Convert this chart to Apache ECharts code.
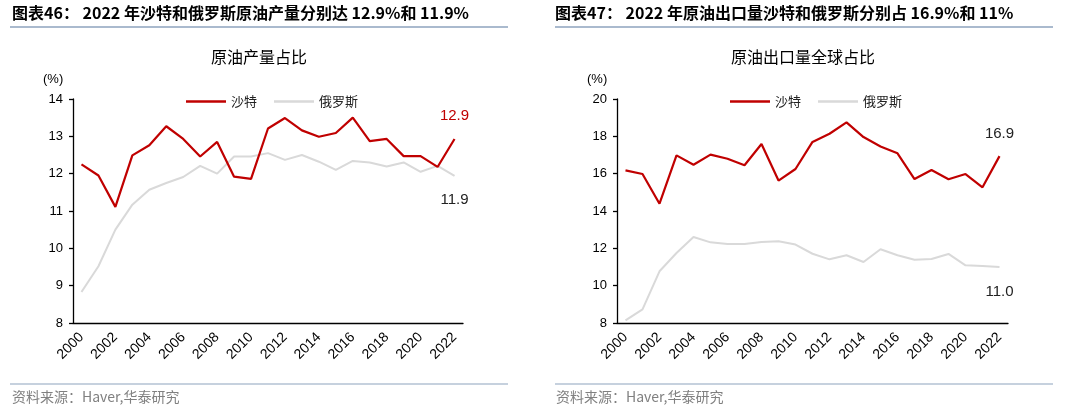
<!DOCTYPE html>
<html>
<head>
<meta charset="utf-8">
<script src="https://cdn.jsdelivr.net/npm/echarts@6/dist/echarts.min.js"></script>
<style>
html,body{margin:0;padding:0;background:#fff;}
#c{width:1080px;height:415px;}
</style>
</head>
<body>
<div id="c"></div>
<script>
var years = ['2000','2001','2002','2003','2004','2005','2006','2007','2008','2009','2010','2011','2012','2013','2014','2015','2016','2017','2018','2019','2020','2021','2022'];
var saudiProd = [12.25,11.95,11.11,12.49,12.76,13.27,12.93,12.46,12.85,11.92,11.86,13.21,13.49,13.16,12.99,13.09,13.50,12.87,12.93,12.47,12.47,12.18,12.93];
var russiaProd = [8.83,9.52,10.50,11.17,11.57,11.75,11.91,12.21,12.00,12.46,12.46,12.55,12.37,12.50,12.32,12.10,12.34,12.30,12.19,12.30,12.05,12.21,11.94];
var saudiExport = [16.18,15.98,14.39,16.98,16.48,17.02,16.80,16.45,17.59,15.63,16.25,17.70,18.14,18.75,17.96,17.46,17.09,15.71,16.20,15.70,15.98,15.27,16.94];
var russiaExport = [8.14,8.73,10.77,11.75,12.61,12.32,12.23,12.23,12.34,12.38,12.20,11.71,11.41,11.63,11.27,11.95,11.63,11.39,11.43,11.70,11.09,11.05,11.00];
var seriesNames = ['沙特','俄罗斯'];

var RED = '#C00000', GRAY = '#D9D9D9';
var NUM = '"Liberation Sans", Arial, sans-serif';
var CJK = '"Noto Sans CJK SC", sans-serif';

function withEndLabel(arr, color, pos, dist) {
  var last = arr.length - 1;
  return arr.map(function (v, i) {
    if (i !== last) return v;
    return {value: v, label: {show: true, position: pos, distance: dist, color: color,
      fontSize: 15, fontFamily: NUM, formatter: function (p) { return p.value.toFixed(1); }}};
  });
}

function xAxisCfg(gi) {
  return {
    type: 'category', gridIndex: gi, data: years, boundaryGap: true,
    axisLine: {lineStyle: {color: '#000', width: 1.3}},
    axisTick: {interval: 1, length: 5, lineStyle: {color: '#000', width: 1.3}},
    axisLabel: {interval: 1, rotate: 45, fontSize: 14, color: '#000', fontFamily: NUM, margin: 12}
  };
}
function yAxisCfg(gi, mn, mx, iv) {
  return {
    type: 'value', gridIndex: gi, min: mn, max: mx, interval: iv,
    splitLine: {show: false},
    axisLine: {show: true, lineStyle: {color: '#000', width: 1.3}},
    axisTick: {show: true, length: 4, lineStyle: {color: '#000', width: 1.3}},
    axisLabel: {fontSize: 13, color: '#000', fontFamily: NUM, margin: 10}
  };
}
function lineSeries(name, gi, data, color, w) {
  return {
    name: name, type: 'line', xAxisIndex: gi, yAxisIndex: gi, data: data,
    symbol: 'circle', symbolSize: 0.01, showSymbol: true, showAllSymbol: true,
    smooth: false, lineStyle: {color: color, width: w}, itemStyle: {color: color},
    labelLayout: {hideOverlap: false},
    z: name === seriesNames[0] ? 3 : 2, animation: false
  };
}
function legendCfg(left) {
  return {
    left: left, top: 90, icon: 'rect', itemWidth: 40, itemHeight: 2.5, itemGap: 17,
    data: [{name: seriesNames[0], itemStyle: {color: RED}}, {name: seriesNames[1], itemStyle: {color: GRAY}}],
    textStyle: {fontSize: 13, color: '#222', fontFamily: CJK},
    selectedMode: false
  };
}

var chart = echarts.init(document.getElementById('c'), null, {renderer: 'canvas'});
var option = {
  backgroundColor: '#fff',
  animation: false,
  grid: [
    {left: 73, top: 99, width: 390, height: 224},
    {left: 617, top: 99, width: 391, height: 224}
  ],
  legend: [legendCfg(181), legendCfg(725)],
  xAxis: [xAxisCfg(0), xAxisCfg(1)],
  yAxis: [yAxisCfg(0, 8, 14, 1), yAxisCfg(1, 8, 20, 2)],
  series: [
    lineSeries(seriesNames[1], 0, withEndLabel(russiaProd, '#222', 'bottom', 16), GRAY, 2),
    lineSeries(seriesNames[0], 0, withEndLabel(saudiProd, RED, 'top', 16), RED, 2.2),
    lineSeries(seriesNames[1], 1, withEndLabel(russiaExport, '#222', 'bottom', 17), GRAY, 2),
    lineSeries(seriesNames[0], 1, withEndLabel(saudiExport, '#222', 'top', 15), RED, 2.2)
  ],
  graphic: [
    {type: 'text', left: 12, top: 5, style: {text: '图表46： 2022 年沙特和俄罗斯原油产量分别达 12.9%和 11.9%', fontSize: 16, fontWeight: 'bold', fill: '#000', fontFamily: CJK}},
    {type: 'text', left: 555, top: 5, style: {text: '图表47： 2022 年原油出口量沙特和俄罗斯分别占 16.9%和 11%', fontSize: 16, fontWeight: 'bold', fill: '#000', fontFamily: CJK}},
    {type: 'line', shape: {x1: 10, y1: 27, x2: 508, y2: 27}, style: {stroke: '#8EA3BE', lineWidth: 1.5}},
    {type: 'line', shape: {x1: 555, y1: 27, x2: 1053, y2: 27}, style: {stroke: '#8EA3BE', lineWidth: 1.5}},
    {type: 'text', x: 259, y: 57, style: {text: '原油产量占比', fontSize: 16, fill: '#000', fontFamily: CJK, align: 'center', verticalAlign: 'middle'}},
    {type: 'text', x: 803, y: 57, style: {text: '原油出口量全球占比', fontSize: 16, fill: '#000', fontFamily: CJK, align: 'center', verticalAlign: 'middle'}},
    {type: 'text', x: 43, y: 79, style: {text: '(%)', fontSize: 13, fill: '#000', fontFamily: NUM, verticalAlign: 'middle'}},
    {type: 'text', x: 587, y: 79, style: {text: '(%)', fontSize: 13, fill: '#000', fontFamily: NUM, verticalAlign: 'middle'}},
    {type: 'line', shape: {x1: 10, y1: 384, x2: 508, y2: 384}, style: {stroke: '#8EA3BE', lineWidth: 1.2}},
    {type: 'line', shape: {x1: 555, y1: 384, x2: 1053, y2: 384}, style: {stroke: '#8EA3BE', lineWidth: 1.2}},
    {type: 'text', x: 12, y: 397, style: {text: '资料来源：Haver,华泰研究', fontSize: 14, fill: '#808080', fontFamily: CJK, verticalAlign: 'middle'}},
    {type: 'text', x: 556, y: 397, style: {text: '资料来源：Haver,华泰研究', fontSize: 14, fill: '#808080', fontFamily: CJK, verticalAlign: 'middle'}}
  ]
};
chart.setOption(option);
</script>
</body>
</html>
